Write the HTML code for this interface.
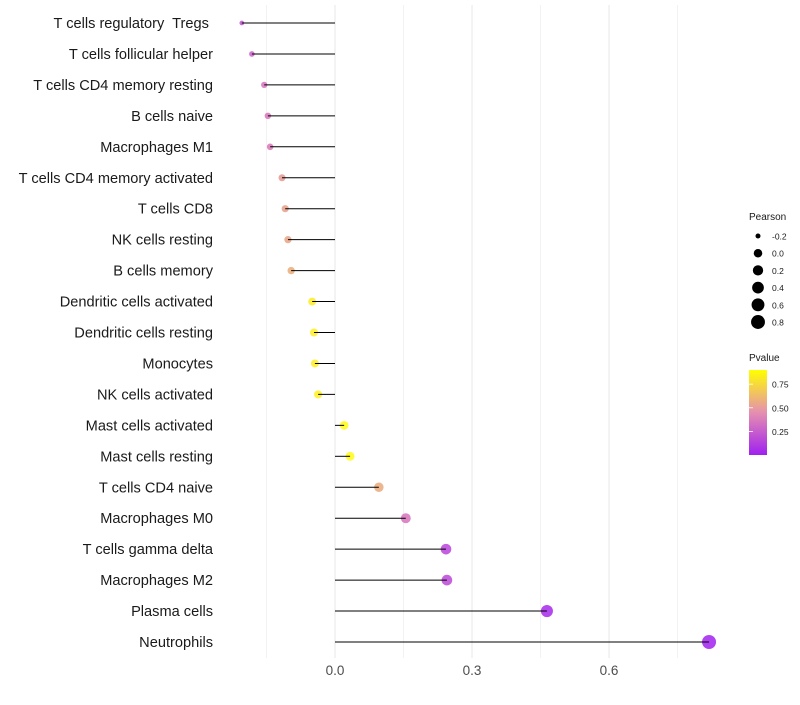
<!DOCTYPE html>
<html><head><meta charset="utf-8"><style>
body{margin:0;background:#fff;font-family:"Liberation Sans",sans-serif}
text{white-space:pre}
</style></head><body>
<svg id="c" width="800" height="700" xmlns="http://www.w3.org/2000/svg">
<defs><linearGradient id="pg" x1="0" y1="1" x2="0" y2="0">
<stop offset="0" stop-color="#A020F0"/><stop offset="0.5" stop-color="#E58FB0"/><stop offset="1" stop-color="#FFFF00"/></linearGradient></defs>
<g id="grid"></g><g id="marks"></g><g id="labels"></g><g id="legend"></g>
</svg>
<script>
const categories=["T cells regulatory  Tregs ","T cells follicular helper","T cells CD4 memory resting","B cells naive","Macrophages M1","T cells CD4 memory activated","T cells CD8","NK cells resting","B cells memory","Dendritic cells activated","Dendritic cells resting","Monocytes","NK cells activated","Mast cells activated","Mast cells resting","T cells CD4 naive","Macrophages M0","T cells gamma delta","Macrophages M2","Plasma cells","Neutrophils"];
const pearson=[-0.204,-0.182,-0.155,-0.147,-0.142,-0.116,-0.109,-0.103,-0.096,-0.050,-0.046,-0.044,-0.037,0.020,0.033,0.096,0.155,0.243,0.245,0.464,0.819];
const pvalue=[0.25,0.33,0.42,0.43,0.44,0.56,0.58,0.6,0.63,0.85,0.86,0.86,0.87,0.95,0.92,0.62,0.42,0.18,0.2,0.04,0.01];
const xTicks=[0.0,0.3,0.6];
const xMinor=[-0.15,0.15,0.45,0.75];
const sizeBreaks=[-0.2,0.0,0.2,0.4,0.6,0.8];
const pBreaks=[0.25,0.50,0.75];
const NS="http://www.w3.org/2000/svg";
const x=v=>335+v*456.7;
const y=i=>23+i*30.95;
const r=v=>2+5*Math.sqrt(Math.max(0,(v+0.21)/1.03));
function lerp(a,b,t){return a.map((c,k)=>Math.round(c+(b[k]-c)*t));}
function col(p){const lo=[160,32,240],mid=[220,120,185],hi=[255,250,20];const t=Math.min(1,Math.max(0,p/0.9));
const c=t<0.5?lerp(lo,mid,t*2):lerp(mid,hi,(t-0.5)*2);return `rgb(${c})`;}
function mk(tag,at,parent,txt){const e=document.createElementNS(NS,tag);for(const k in at)e.setAttribute(k,at[k]);if(txt!==undefined)e.textContent=txt;document.getElementById(parent).appendChild(e);return e;}
xMinor.forEach(v=>{const e=mk('line',{x1:x(v),x2:x(v),y1:5,y2:658,stroke:'#f2f2f2','stroke-width':1},'grid');

});
xTicks.forEach(v=>{const e=mk('line',{x1:x(v),x2:x(v),y1:5,y2:658,stroke:'#ebebeb','stroke-width':1.2},'grid');


const t=mk('text',{x:x(v),y:675,'text-anchor':'middle','font-size':13.5,fill:'#4d4d4d'},'labels',v.toFixed(1));

});
categories.forEach((c,i)=>{
const t=mk('text',{x:213,y:y(i)+5,'text-anchor':'end','font-size':14.6,fill:'#1a1a1a'},'labels',c);


const p=mk('circle',{cx:x(pearson[i]),cy:y(i),r:r(pearson[i]),fill:col(pvalue[i]),'fill-opacity':0.85},'marks');


const l=mk('line',{x1:x(0),x2:x(pearson[i]),y1:y(i),y2:y(i),stroke:'#000','stroke-width':1},'marks');

});
let t=mk('text',{x:749,y:220,'font-size':10,fill:'#1a1a1a'},'legend','Pearson');


sizeBreaks.forEach((v,k)=>{const yy=236+k*17.2;
const c=mk('circle',{cx:758,cy:yy,r:r(v),fill:'#000'},'legend');


const s=mk('text',{x:772,y:yy+3.5,'font-size':8.5,fill:'#1a1a1a'},'legend',v.toFixed(1));

});
t=mk('text',{x:749,y:361,'font-size':10,fill:'#1a1a1a'},'legend','Pvalue');


const bar=mk('rect',{x:749,y:370,width:18,height:85,fill:'url(#pg)'},'legend');


pBreaks.forEach(v=>{const yy=455-v/0.9*85;
const tk=mk('line',{x1:749,x2:753,y1:yy,y2:yy,stroke:'#fff','stroke-width':0.8},'legend');


const s=mk('text',{x:772,y:yy+3.5,'font-size':8.5,fill:'#1a1a1a'},'legend',v.toFixed(2));

});
</script>
</body></html>
